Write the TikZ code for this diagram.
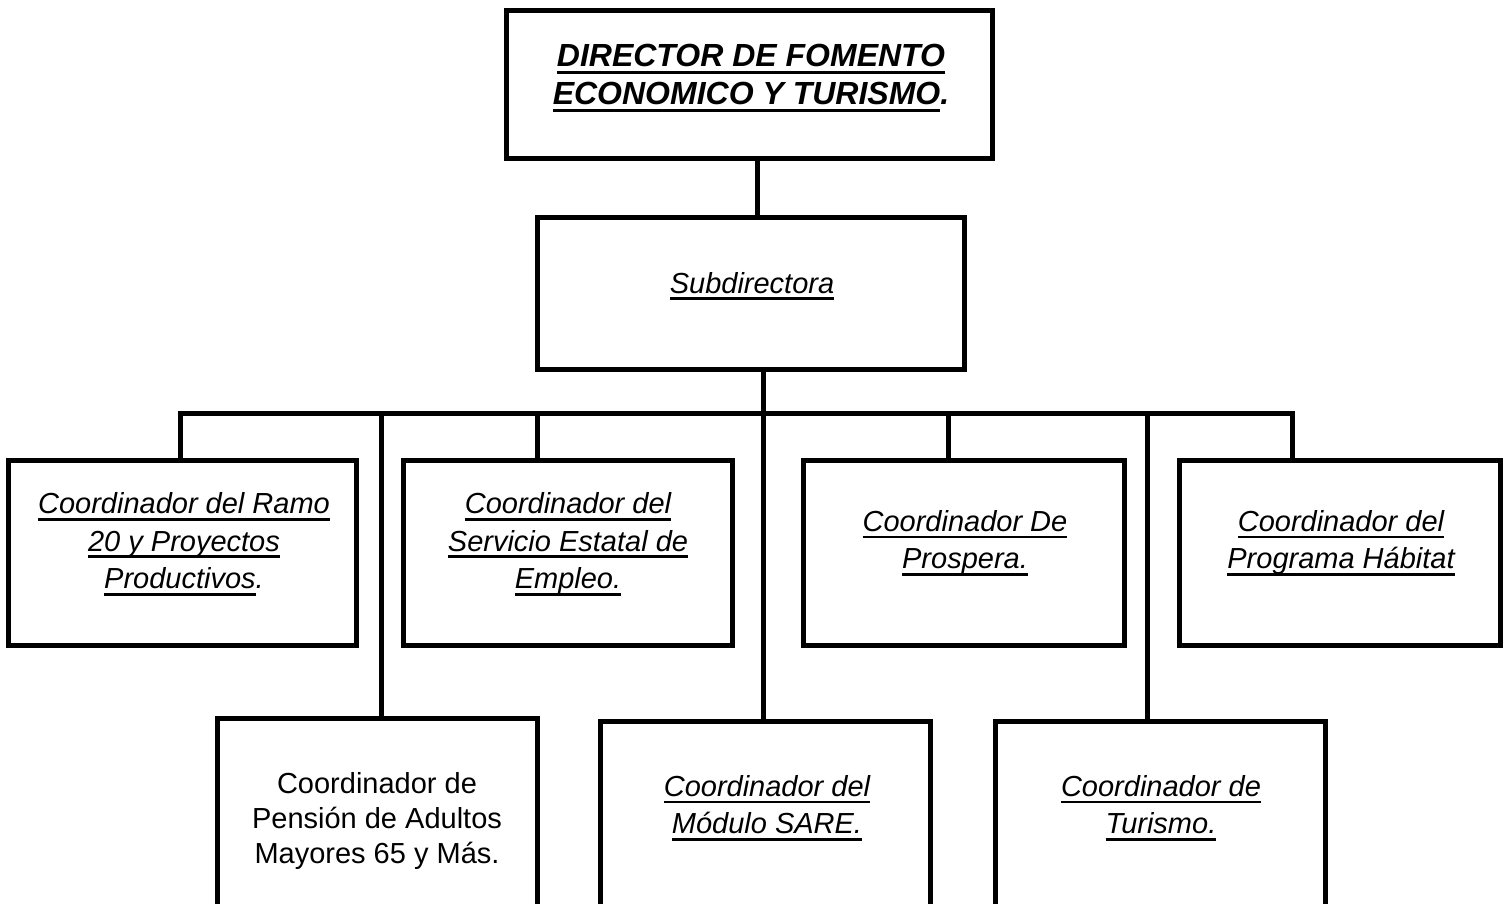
\documentclass[tikz,border=0pt]{standalone}
\usepackage{fontspec}
\setmainfont{Liberation Sans}
\newsavebox\ulboxA
\newcommand\ulit[1]{\leavevmode\sbox\ulboxA{#1}\rlap{\rule[-7pt]{\wd\ulboxA}{2.6pt}}\usebox\ulboxA}
\newcommand\ulbd[1]{\leavevmode\sbox\ulboxA{#1}\rlap{\rule[-8pt]{\wd\ulboxA}{3.6pt}}\usebox\ulboxA}
\tikzset{
  box/.style={draw, line width=5pt, inner sep=0pt, outer sep=0pt, fill=white},
  conn/.style={line width=5pt, line join=miter, line cap=butt},
  lbl/.style={inner sep=0pt, align=center, font=\fontsize{29pt}{37.5pt}\selectfont\itshape},
  lblup/.style={inner sep=0pt, align=center, font=\fontsize{29pt}{35pt}\selectfont},
  lbldir/.style={inner sep=0pt, align=center, font=\fontsize{32pt}{38pt}\selectfont\bfseries\itshape},
}
\begin{document}
\begin{tikzpicture}[x=1pt,y=-1pt]
\useasboundingbox (0,0) rectangle (1505,904);
\begin{scope}
\clip (0,0) rectangle (1505,904);
\fill[white] (0,0) rectangle (1505,904);
% coordinates on the bar
\coordinate (d1) at (180,413);
\coordinate (d2) at (381,413);
\coordinate (d3) at (537,413);
\coordinate (d4) at (763,413);
\coordinate (d5) at (948,413);
\coordinate (d6) at (1147,413);
\coordinate (d7) at (1292,413);
% boxes
\node[box, minimum width=486pt, minimum height=148pt] (dir) at (749.5,84.5) {};
\node[box, minimum width=427pt, minimum height=152pt] (sub) at (751,293.5) {};
\node[box, minimum width=348pt, minimum height=185pt] (b1) at (182.5,553) {};
\node[box, minimum width=329pt, minimum height=185pt] (b2) at (568,553) {};
\node[box, minimum width=321pt, minimum height=185pt] (b3) at (964,553) {};
\node[box, minimum width=321pt, minimum height=185pt] (b4) at (1340,553) {};
\node[box, minimum width=320pt, minimum height=229pt] (p) at (377.5,833) {};
\node[box, minimum width=330pt, minimum height=226pt] (s) at (765.5,834.5) {};
\node[box, minimum width=330pt, minimum height=226pt] (t) at (1160.5,834.5) {};
% connectors
\draw[conn] ([xshift=7.5pt]dir.south) -- ([xshift=6pt]sub.north);
\draw[conn] (d1 |- b1.north) -- (d1) -- (d7) -- (d7 |- b4.north);
\draw[conn] (d4 |- sub.south) -- (d4 |- s.north);
\draw[conn] (d2) -- (d2 |- p.north);
\draw[conn] (d3) -- (d3 |- b2.north);
\draw[conn] (d5) -- (d5 |- b3.north);
\draw[conn] (d6) -- (d6 |- t.north);
% texts
\node[lbldir] (dirT) at (751,78) {\ulbd{DIRECTOR DE FOMENTO}\\\ulbd{ECONOMICO Y TURISMO}.};
\node[lbl] (subT) at (752,286) {\ulit{Subdirectora}};
\node[lbl] (b1T) at (184,544) {\ulit{Coordinador del Ramo}\\\ulit{20 y Proyectos}\\\ulit{Productivos}.};
\node[lbl] (b2T) at (568,544) {\ulit{Coordinador del}\\\ulit{Servicio Estatal de}\\\ulit{Empleo.}};
\node[lbl] (b3T) at (965,543) {\ulit{Coordinador De}\\\ulit{Prospera.}};
\node[lbl] (b4T) at (1341,543) {\ulit{Coordinador del}\\\ulit{Programa Hábitat}};
\node[lblup] (pT) at (377,821) {Coordinador de\\Pensión de Adultos\\Mayores 65 y Más.};
\node[lbl] (sT) at (767,808) {\ulit{Coordinador del}\\\ulit{Módulo SARE.}};
\node[lbl] (tT) at (1161,808) {\ulit{Coordinador de}\\\ulit{Turismo.}};
\end{scope}
\end{tikzpicture}
\end{document}
